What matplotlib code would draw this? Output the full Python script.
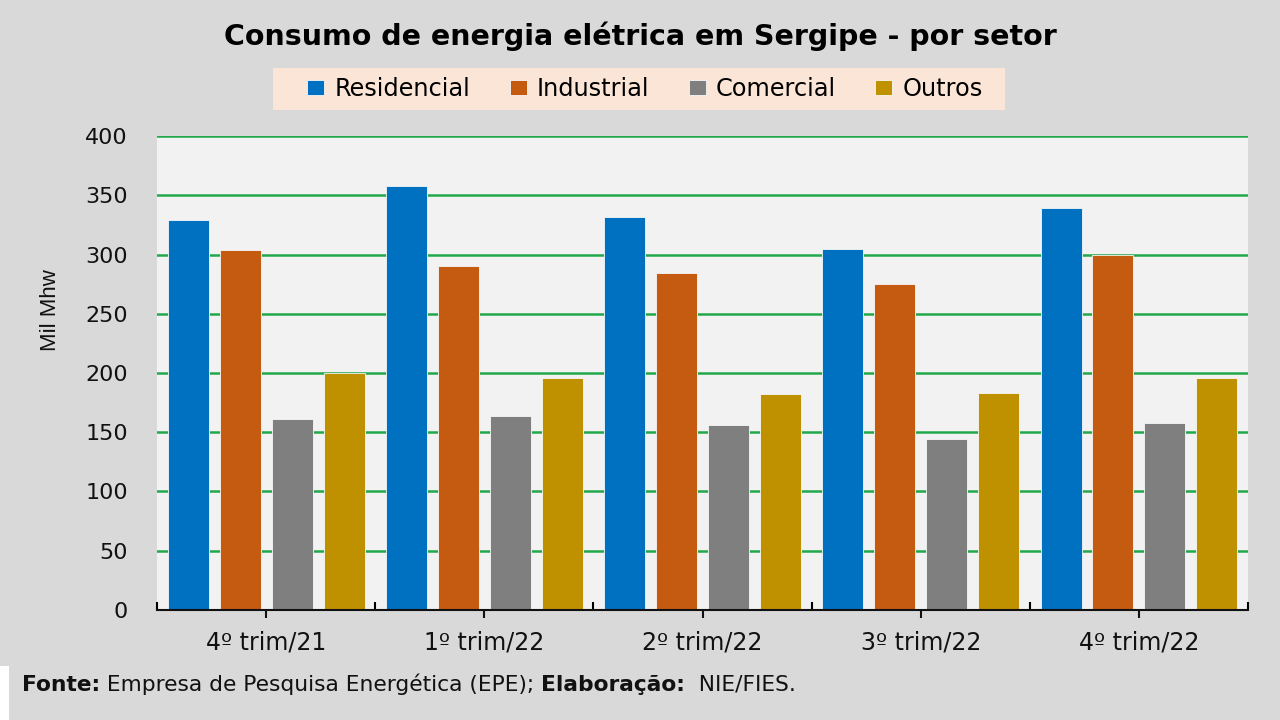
import matplotlib
matplotlib.use("Agg")
import matplotlib.pyplot as plt
import numpy as np
from matplotlib.offsetbox import TextArea, HPacker, AnchoredOffsetbox
from matplotlib.patches import Rectangle

categories = ["4º trim/21", "1º trim/22", "2º trim/22", "3º trim/22", "4º trim/22"]
series_names = ["Residencial", "Industrial", "Comercial", "Outros"]
residencial = [329, 358, 332, 305, 339]
industrial = [304, 290, 284, 275, 300]
comercial = [161, 164, 156, 144, 158]
outros = [200, 196, 182, 183, 196]
yticks = [0, 50, 100, 150, 200, 250, 300, 350, 400]

colors = ["#0070c0", "#c55a11", "#7f7f7f", "#bf9000"]
font = "DejaVu Sans"

fig = plt.figure(figsize=(12.8, 7.2), dpi=100)
fig.patch.set_facecolor("#d9d9d9")
ax = fig.add_axes([0.1227, 0.1528, 0.975 - 0.1227, 0.8111 - 0.1528])
ax.set_facecolor("#f2f2f2")

x = np.arange(len(categories))
width = 0.188
step = 0.238
data = [residencial, industrial, comercial, outros]
handles = []
for i, (vals, name, c) in enumerate(zip(data, series_names, colors)):
    h = ax.bar(x + (i - 1.5) * step, vals, width, color=c, label=name,
               edgecolor="#f7f7f7", linewidth=0.6, zorder=3)
    handles.append(h)

ax.set_ylim(0, 400)
ax.set_xlim(-0.5, len(categories) - 0.5)
ax.set_yticks(yticks)
ax.set_yticklabels([str(v) for v in yticks], fontsize=16, family=font)
ax.yaxis.grid(True, color="#22a84a", linewidth=1.8, zorder=1)
ax.set_axisbelow(True)
ax.tick_params(axis="y", length=0, pad=21, colors="#111111")

ax.set_xticks(x)
ax.set_xticklabels(categories, fontsize=17, family=font)
ax.set_xticks(np.arange(-0.5, len(categories), 1.0), minor=True)
ax.tick_params(axis="x", which="major", direction="out", length=6, width=1.5, pad=9, colors="#111111")
ax.tick_params(axis="x", which="minor", direction="in", length=6, width=1.5)

for s in ["top", "right", "left"]:
    ax.spines[s].set_visible(False)
ax.spines["bottom"].set_color("#111111")
ax.spines["bottom"].set_linewidth(1.5)
ax.spines["bottom"].set_zorder(5)

ax.set_ylabel("Mil Mhw", fontsize=16, family="Liberation Sans", color="#111111")
ax.yaxis.set_label_coords(-0.088, 0.633)

fig.text(0.5, 0.95, "Consumo de energia elétrica em Sergipe - por setor",
         ha="center", va="center", fontsize=20.5, fontweight="bold", family=font)

# legend background band
fig.patches.append(Rectangle((273 / 1280, 1 - 110 / 720), (1005 - 273) / 1280, 42 / 720,
                             transform=fig.transFigure, facecolor="#fbe5d6",
                             edgecolor="none", zorder=1))
leg = fig.legend(handles=handles, labels=series_names, loc="center",
                 bbox_to_anchor=(645 / 1280, 1 - 89 / 720), ncol=4, frameon=False,
                 prop={"family": font, "size": 17.3},
                 handlelength=0.7, handleheight=0.55, columnspacing=1.65,
                 handletextpad=0.42, borderpad=0.0, borderaxespad=0)
leg.set_zorder(2)

parts = [("Fonte:", "bold"), (" Empresa de Pesquisa Energética (EPE); ", "normal"),
         ("Elaboração:", "bold"), ("  NIE/FIES.", "normal")]
areas = [TextArea(t, textprops=dict(fontsize=15.7, fontweight=w, family=font, color="#111111"))
         for t, w in parts]
box = HPacker(children=areas, pad=0, sep=0, align="baseline")
anch = AnchoredOffsetbox(loc="center left", child=box, frameon=False,
                         bbox_to_anchor=(22 / 1280, 0.05), bbox_transform=fig.transFigure, pad=0,
                         borderpad=0)
fig.add_artist(anch)

fig.patches.append(Rectangle((0, 0), 0.007, 0.075, transform=fig.transFigure,
                             facecolor="white", edgecolor="none", zorder=0))

fig.savefig("out.png", dpi=100, facecolor=fig.get_facecolor())
